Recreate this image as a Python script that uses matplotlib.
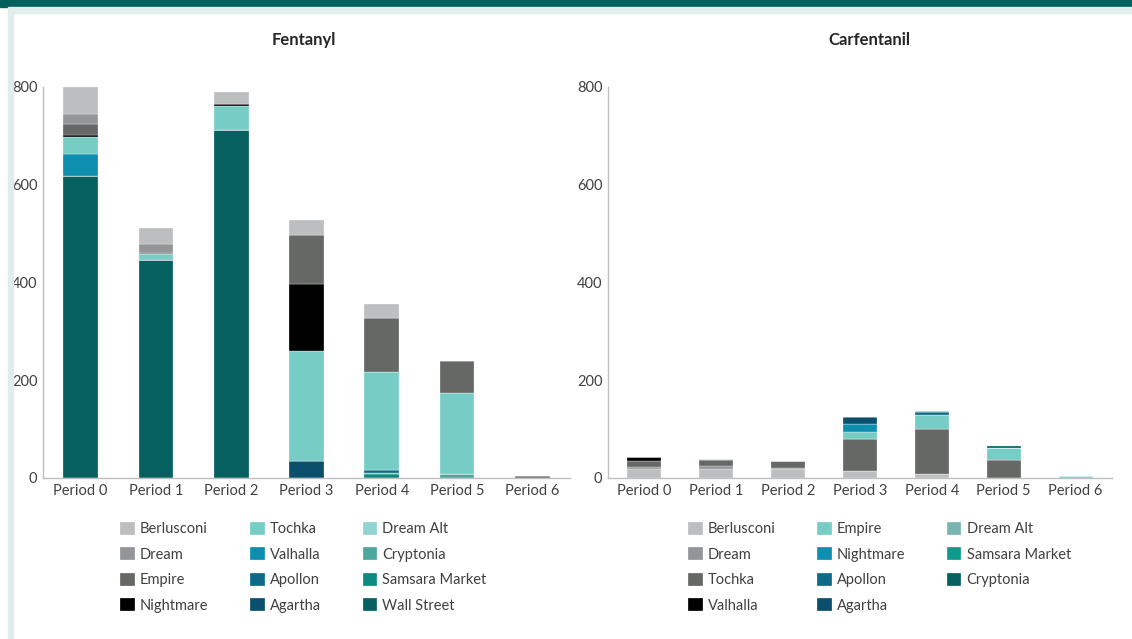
import matplotlib.pyplot as plt
import numpy as np
from matplotlib.patches import Rectangle

plt.rcParams['font.family'] = ['Lato', 'DejaVu Sans']

periods = ["Period 0", "Period 1", "Period 2", "Period 3", "Period 4", "Period 5", "Period 6"]

# Fentanyl listings per market (stacked bottom to top)
fen_wall_street = [618, 445, 712, 0, 0, 0, 0]
fen_samsara = [0, 0, 0, 0, 8, 0, 0]
fen_cryptonia = [0, 0, 0, 0, 2, 8, 0]
fen_dream_alt = [0, 0, 0, 0, 1, 0, 0]
fen_agartha = [0, 0, 0, 34, 0, 0, 0]
fen_apollon = [0, 0, 0, 0, 6, 0, 0]
fen_valhalla = [45, 0, 0, 0, 0, 0, 0]
fen_tochka = [35, 13, 48, 225, 200, 166, 0]
fen_nightmare = [3, 0, 6, 137, 0, 0, 0]
fen_empire = [23, 3, 0, 101, 111, 65, 4]
fen_dream = [20, 17, 0, 0, 0, 0, 0]
fen_berlusconi = [56, 34, 24, 31, 27, 0, 0]

# Carfentanil listings per market (stacked bottom to top)
car_berlusconi = [18, 19, 19, 14, 8, 0, 0]
car_dream = [5, 5, 1, 0, 0, 0, 0]
car_tochka = [12, 13, 14, 66, 92, 37, 0]
car_valhalla = [8, 0, 0, 0, 0, 0, 0]
car_empire = [0, 2, 0, 14, 29, 24, 4]
car_nightmare = [0, 0, 0, 16, 0, 0, 0]
car_apollon = [0, 0, 0, 0, 6, 0, 0]
car_agartha = [0, 0, 0, 14, 0, 0, 0]
car_dream_alt = [0, 0, 0, 0, 1, 0, 0]
car_samsara = [0, 0, 0, 0, 0, 0, 0]
car_cryptonia = [0, 0, 0, 0, 0, 4, 0]

fen_series = [
    ("Wall Street", fen_wall_street, "#066060"),
    ("Samsara Market", fen_samsara, "#0e8b7f"),
    ("Cryptonia", fen_cryptonia, "#4da7a1"),
    ("Dream Alt", fen_dream_alt, "#92d3d3"),
    ("Agartha", fen_agartha, "#0a4f6b"),
    ("Apollon", fen_apollon, "#0e6a88"),
    ("Valhalla", fen_valhalla, "#0f8faf"),
    ("Tochka", fen_tochka, "#77cdc6"),
    ("Nightmare", fen_nightmare, "#000000"),
    ("Empire", fen_empire, "#666866"),
    ("Dream", fen_dream, "#939598"),
    ("Berlusconi", fen_berlusconi, "#bdbec0"),
]
fen_legend_order = ["Berlusconi", "Dream", "Empire", "Nightmare",
                    "Tochka", "Valhalla", "Apollon", "Agartha",
                    "Dream Alt", "Cryptonia", "Samsara Market", "Wall Street"]

car_series = [
    ("Berlusconi", car_berlusconi, "#bdbec0"),
    ("Dream", car_dream, "#939598"),
    ("Tochka", car_tochka, "#666866"),
    ("Valhalla", car_valhalla, "#000000"),
    ("Empire", car_empire, "#77cdc6"),
    ("Nightmare", car_nightmare, "#0f8faf"),
    ("Apollon", car_apollon, "#0e6a88"),
    ("Agartha", car_agartha, "#0a4f6b"),
    ("Dream Alt", car_dream_alt, "#7ab4b0"),
    ("Samsara Market", car_samsara, "#0e9a8c"),
    ("Cryptonia", car_cryptonia, "#066060"),
]
car_legend_order = ["Berlusconi", "Dream", "Tochka", "Valhalla",
                    "Empire", "Nightmare", "Apollon", "Agartha",
                    "Dream Alt", "Samsara Market", "Cryptonia"]

fig = plt.figure(figsize=(11.32, 6.39), dpi=100)
ax1 = fig.add_axes([0.038, 0.252, 0.4655, 0.612])
ax2 = fig.add_axes([0.537, 0.252, 0.445, 0.612])


def draw(ax, series, order, title, width, leg_x, title_x):
    x = np.arange(len(periods))
    bottom = np.zeros(len(periods))
    handles = {}
    for name, vals, col in series:
        v = np.array(vals, dtype=float)
        b = ax.bar(x, v, width, bottom=bottom, color=col, edgecolor="white",
                   linewidth=0.2, label=name)
        handles[name] = b
        bottom += v
    ax.set_xlim(-0.5, len(periods) - 0.5)
    ax.set_ylim(0, 800)
    ax.set_yticks([0, 200, 400, 600, 800])
    ax.set_xticks(x)
    ax.set_xticklabels(periods)
    ax.tick_params(length=0, labelsize=10.5, labelcolor="#404040", pad=4)
    for s in ["top", "right"]:
        ax.spines[s].set_visible(False)
    for s in ["left", "bottom"]:
        ax.spines[s].set_color("#bfbfbf")
        ax.spines[s].set_linewidth(1)
    ax.set_title(title, fontsize=12, fontweight="bold", color="#262626", pad=30, x=title_x)
    ax.legend([handles[n] for n in order], order, ncol=3, frameon=False,
              loc="upper left", bbox_to_anchor=(leg_x, -0.078),
              fontsize=10.5, handlelength=1.0, handleheight=1.0,
              handletextpad=0.35, columnspacing=2.85, labelspacing=0.76,
              labelcolor="#404040")


draw(ax1, fen_series, fen_legend_order, "Fentanyl", 0.46, 0.122, 0.495)
draw(ax2, car_series, car_legend_order, "Carfentanil", 0.47, 0.133, 0.52)

# page decoration: header band and light frame
fig.patches.append(Rectangle((0, 1 - 7 / 639), 1, 7 / 639, transform=fig.transFigure,
                             color="#02605f", zorder=10))
fig.patches.append(Rectangle((8 / 1132, 1 - 13 / 639), 1, 6 / 639, transform=fig.transFigure,
                             color="#e1eded", zorder=10))
fig.patches.append(Rectangle((8 / 1132, 0), 5 / 1132, 1 - 8 / 639, transform=fig.transFigure,
                             color="#e1eded", zorder=10))

fig.savefig("out.png", dpi=100)
